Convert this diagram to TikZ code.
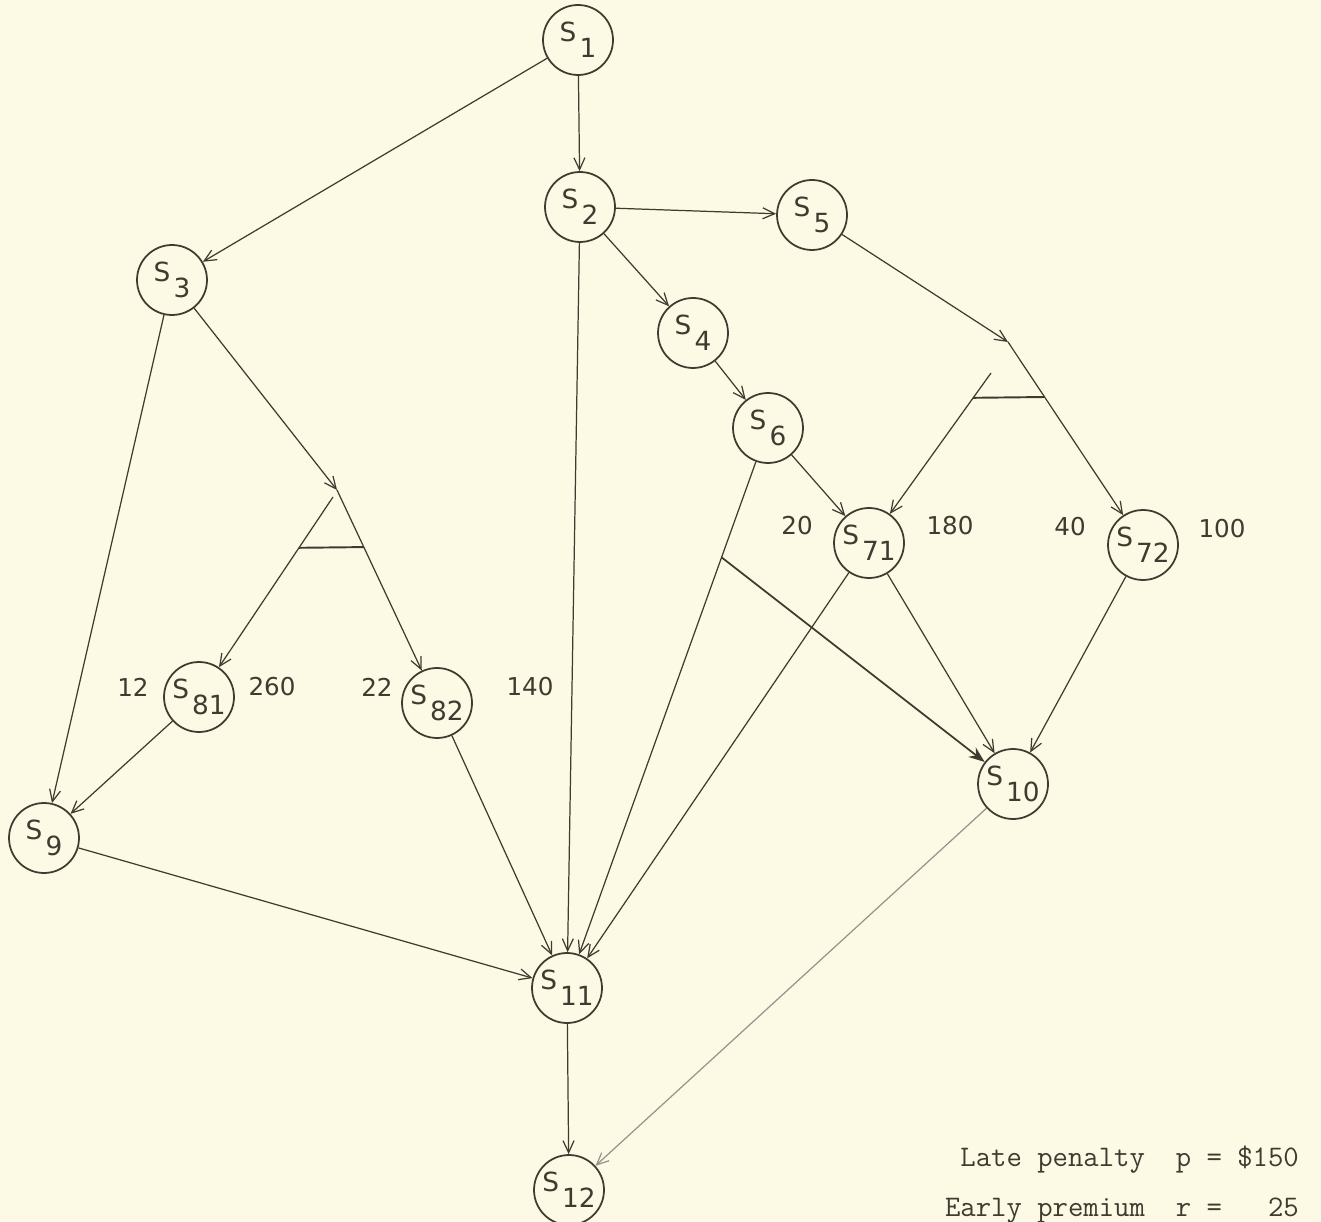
\documentclass[tikz,border=0pt]{standalone}
\usepackage{fontspec}
\usetikzlibrary{arrows.meta,calc}
\newfontfamily\gothic{DejaVu Sans}
\definecolor{paper}{RGB}{252,250,228}
\definecolor{ink}{RGB}{62,60,48}
\newcommand{\st}[1]{S\kern0.12em\raisebox{-0.62em}{#1}}

\begin{document}
\begin{tikzpicture}[x=0.02cm, y=-0.02cm,
	>={Straight Barb[length=2.4mm,width=2.2mm]},
	state/.style={circle, draw=ink, line width=1pt, minimum size=1.4cm, inner sep=0pt, text=ink, font=\gothic\fontsize{15}{15}\selectfont},
	num/.style={text=ink, font=\gothic\fontsize{14}{14}\selectfont},
	link/.style={draw=ink, line width=0.7pt, ->},
	forkbar/.style={draw=ink, line width=1.1pt},
	note/.style={anchor=base east, text=ink, font=\ttfamily\fontsize{17}{17}\selectfont}]

	\fill [paper] (0,0) rectangle (1321,1222);
	\useasboundingbox (0,0) rectangle (1321,1222);

	% states
	\node [state] (S1) at (578,40) {\st{1}};
	\node [state] (S2) at (580,207) {\st{2}};
	\node [state] (S5) at (812,215) {\st{5}};
	\node [state] (S3) at (172,280) {\st{3}};
	\node [state] (S4) at (693,333) {\st{4}};
	\node [state] (S6) at (768,428) {\st{6}};
	\node [state] (S71) at (869,543) {\st{71}};
	\node [state] (S72) at (1143,545) {\st{72}};
	\node [state] (S81) at (199,697) {\st{81}};
	\node [state] (S82) at (437,703) {\st{82}};
	\node [state] (S9) at (44,838) {\st{9}};
	\node [state] (S10) at (1013,784) {\st{10}};
	\node [state] (S11) at (567,988) {\st{11}};
	\node [state] (S12) at (569,1190) {\st{12}};

	% numbers beside the split states
	\node [num] (n71a) at (797,526) {20};
	\node [num] (n71b) at (950,526) {180};
	\node [num] (n72a) at (1070,527) {40};
	\node [num] (n72b) at (1222,529) {100};
	\node [num] (n81a) at (133,687) {12};
	\node [num] (n81b) at (272,687) {260};
	\node [num] (n82a) at (377,687) {22};
	\node [num] (n82b) at (530,687) {140};

	% plain links
	\draw [link] (S1) -- (S2);
	\draw [link] (S1) -- (S3);
	\draw [link] (S2) -- (S5);
	\draw [link] (S2) -- (S4);
	\draw [link] (S2) -- (S11);
	\draw [link] (S4) -- (S6);
	\draw [link] (S6) -- (S71);
	\draw [link] (S6) -- (S11);
	\draw [link] (S3) -- (S9);
	\draw [link] (S81) -- (S9);
	\draw [link] (S9) -- (S11);
	\draw [link] (S82) -- (S11);
	\draw [link] (S71) -- (S11);
	\draw [link] (S71) -- (S10);
	\draw [link] (S72) -- (S10);
	\draw [link] (S11) -- (S12);
	\draw [link, draw=ink!55] (S10) -- (S12);

	% fork below S3
	\coordinate (f3) at (337,490);
	\coordinate (f3l) at (333,497);
	\draw [link] (S3) -- (f3);
	\draw [link] (f3) -- (S82);
	\draw [link] (f3l) -- (S81);
	\draw [forkbar] ($(f3l)!0.254!(S81.center)$) -- ($(f3)!0.268!(S82.center)$);

	% fork below S5
	\coordinate (f5) at (1008,342);
	\coordinate (f5l) at (991,373);
	\draw [link] (S5) -- (f5);
	\draw [link] (f5) -- (S72);
	\draw [link] (f5l) -- (S71);
	\draw [forkbar] ($(f5l)!0.146!(S71.center)$) -- ($(f5)!0.271!(S72.center)$);

	% branch off the S6 line
	\coordinate (j6) at ($(S6.center)!0.231!(S11.center)$);
	\draw [link, line width=1pt, -{Stealth[length=3.2mm,width=2.4mm]}] (j6) -- (S10);

	% costs
	\node [note] (late) at (1305,1166) {Late penalty~~p~=~\$150};
	\node [note] (early) at (1305,1216) {Early premium~~r~=~~~25};
\end{tikzpicture}
\end{document}
